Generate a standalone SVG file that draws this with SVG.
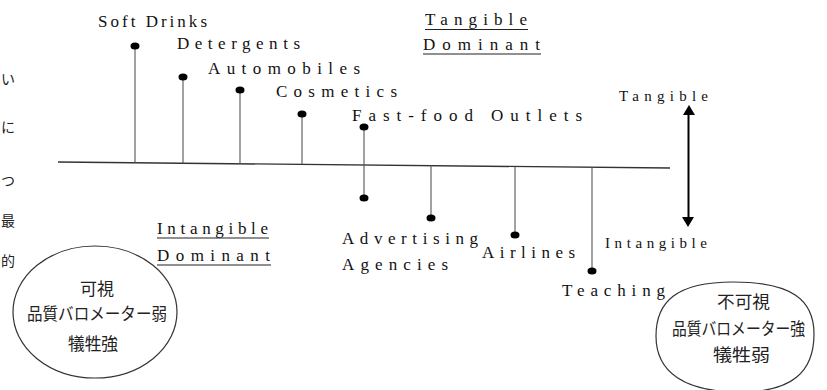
<svg xmlns="http://www.w3.org/2000/svg" width="827" height="390" viewBox="0 0 827 390">
<style>
.lbl{font-family:"Liberation Serif","Times New Roman",serif;font-size:17px;fill:#111}
.cjk{font-family:"Noto Sans CJK JP","Noto Sans CJK SC",sans-serif;font-size:17px;fill:#222}
.stem{stroke:#555;stroke-width:1.1;fill:none}
.dot{fill:#000}
.ul{stroke:#222;stroke-width:1.2}
.oval{fill:none;stroke:#333;stroke-width:1.2}
.frag{font-family:"Noto Sans CJK JP",sans-serif;font-size:14px;fill:#222}
</style>
<rect width="827" height="390" fill="#fff"/>

<g id="margin-fragments">
<text class="frag" x="1" y="84">い</text>
<text class="frag" x="1" y="132">に</text>
<text class="frag" x="1" y="186">つ</text>
<text class="frag" x="1" y="226">最</text>
<text class="frag" x="1" y="266">的</text>
</g>

<g id="connectors">
<line x1="58" y1="162" x2="670" y2="168" stroke="#333" stroke-width="1.4"/>
<line class="stem" x1="135" y1="46" x2="135" y2="162.8"/>
<line class="stem" x1="183" y1="77" x2="183" y2="163.2"/>
<line class="stem" x1="240" y1="90" x2="240" y2="163.8"/>
<line class="stem" x1="302" y1="114" x2="302" y2="164.4"/>
<line class="stem" x1="364" y1="127" x2="364" y2="198"/>
<line class="stem" x1="431" y1="165.6" x2="431" y2="218"/>
<line class="stem" x1="515" y1="166.5" x2="515" y2="235"/>
<line class="stem" x1="592" y1="167.2" x2="592" y2="271"/>
<line x1="688.5" y1="113" x2="688.5" y2="219" stroke="#000" stroke-width="2"/>
<polygon points="689,105 683,115 695,115" fill="#000"/>
<polygon points="688,227 682,217 694,217" fill="#000"/>
</g>

<g id="soft-drinks"><ellipse class="dot" cx="135" cy="46" rx="4.5" ry="3.5"/><text class="lbl" x="98" y="27" textLength="109" lengthAdjust="spacing">Soft Drinks</text></g>
<g id="detergents"><ellipse class="dot" cx="183" cy="77" rx="4.5" ry="3.5"/><text class="lbl" x="177" y="49" textLength="123" lengthAdjust="spacing">Detergents</text></g>
<g id="automobiles"><ellipse class="dot" cx="240" cy="90" rx="4.5" ry="3.5"/><text class="lbl" x="208" y="74" textLength="152" lengthAdjust="spacing">Automobiles</text></g>
<g id="cosmetics"><ellipse class="dot" cx="302" cy="114" rx="4.5" ry="3.5"/><text class="lbl" x="276" y="97" textLength="121" lengthAdjust="spacing">Cosmetics</text></g>
<g id="fast-food"><ellipse class="dot" cx="364" cy="127" rx="4.5" ry="3.5"/><text class="lbl" x="352" y="121" textLength="230" lengthAdjust="spacing">Fast-food Outlets</text></g>

<g id="advertising"><ellipse class="dot" cx="364" cy="198" rx="4.5" ry="3.5"/><text class="lbl" x="342" y="244" textLength="136" lengthAdjust="spacing">Advertising</text><text class="lbl" x="342" y="270" textLength="106" lengthAdjust="spacing">Agencies</text></g>
<g id="unnamed-431"><ellipse class="dot" cx="431" cy="218" rx="4.5" ry="3.5"/></g>
<g id="airlines"><ellipse class="dot" cx="515" cy="235" rx="4.5" ry="3.5"/><text class="lbl" x="482" y="258" textLength="93" lengthAdjust="spacing">Airlines</text></g>
<g id="teaching"><ellipse class="dot" cx="592" cy="271" rx="4.5" ry="3.5"/><text class="lbl" x="562" y="296" textLength="103" lengthAdjust="spacing">Teaching</text></g>

<g id="tangible-dominant">
<text class="lbl" x="425" y="25" textLength="102" lengthAdjust="spacing">Tangible</text>
<line class="ul" x1="425" y1="29.5" x2="528" y2="29.5"/>
<text class="lbl" x="423" y="50" textLength="117" lengthAdjust="spacing">Dominant</text>
<line class="ul" x1="423" y1="54" x2="541" y2="54"/>
</g>
<g id="intangible-dominant">
<text class="lbl" x="157" y="234" textLength="111" lengthAdjust="spacing">Intangible</text>
<line class="ul" x1="157" y1="238" x2="269" y2="238"/>
<text class="lbl" x="157" y="261" textLength="113" lengthAdjust="spacing">Dominant</text>
<line class="ul" x1="157" y1="265" x2="271" y2="265"/>
</g>
<g id="scale-labels">
<text class="lbl" x="619" y="101" textLength="89" lengthAdjust="spacing" style="font-size:15px">Tangible</text>
<text class="lbl" x="605" y="248" textLength="102" lengthAdjust="spacing" style="font-size:15px">Intangible</text>
</g>

<g id="visible-oval">
<ellipse class="oval" cx="95" cy="312" rx="82" ry="66"/>
<text class="cjk" x="97" y="295" text-anchor="middle">可視</text>
<text class="cjk" x="27" y="320" textLength="140" lengthAdjust="spacingAndGlyphs">品質バロメーター弱</text>
<text class="cjk" x="68" y="350" textLength="50" lengthAdjust="spacingAndGlyphs">犠牲強</text>
</g>
<g id="invisible-oval">
<path class="oval" d="M733,282 C792,282 814,300 814,334 C814,372 792,392 740,392 C684,392 656,372 656,336 C656,302 676,282 733,282 Z"/>
<text class="cjk" x="717" y="308" textLength="53" lengthAdjust="spacingAndGlyphs">不可視</text>
<text class="cjk" x="672" y="335" textLength="133" lengthAdjust="spacingAndGlyphs">品質バロメーター強</text>
<text class="cjk" x="713" y="361" textLength="57" lengthAdjust="spacingAndGlyphs">犠牲弱</text>
</g>
</svg>
